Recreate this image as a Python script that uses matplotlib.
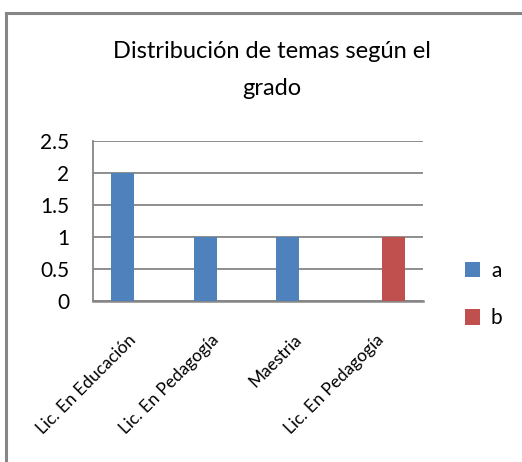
import matplotlib
matplotlib.use("Agg")
import matplotlib.pyplot as plt
import matplotlib.transforms as mtransforms
from matplotlib.lines import Line2D
import numpy as np

# ---------------------------------------------------------------------------
# Data
# ---------------------------------------------------------------------------
CATEGORIES = ["Lic. En Educación", "Lic. En Pedagogía", "Maestria", "Lic. En Pedagogía"]
SERIES_A = [2, 1, 1, 0]
SERIES_B = [0, 0, 0, 1]
SERIES_NAMES = ["a", "b"]
Y_TICKS = [0, 0.5, 1, 1.5, 2, 2.5]
Y_TICK_LABELS = ["0", "0.5", "1", "1.5", "2", "2.5"]
TITLE_LINES = ["Distribución de temas según el", "grado"]

# ---------------------------------------------------------------------------
# Style
# ---------------------------------------------------------------------------
plt.rcParams["font.family"] = ["Lato", "DejaVu Sans"]
BLUE = "#4F81BD"
RED = "#C0504D"
GRID = "#868686"

W, H = 522, 462
fig = plt.figure(figsize=(W / 100, H / 100), dpi=100)

# outer chart frame (only top and left edges are visible in the crop)
fig.add_artist(Line2D([6 / W, 6 / W], [0, 1 - 13 / H], color=GRID, lw=2.2))
fig.add_artist(Line2D([6 / W, 1], [1 - 13 / H, 1 - 13 / H], color=GRID, lw=2.2))

ax = fig.add_axes([93 / W, 1 - 301 / H, 330 / W, 160 / H])

x = np.arange(len(CATEGORIES))
width = 0.28
ax.bar(x - width / 2, SERIES_A, width, color=BLUE, label=SERIES_NAMES[0], zorder=3)
ax.bar(x + width / 2, SERIES_B, width, color=RED, label=SERIES_NAMES[1], zorder=3)

ax.set_xlim(-0.5, len(CATEGORIES) - 0.5)
ax.set_ylim(0, 2.5)
ax.set_yticks(Y_TICKS)
ax.set_yticklabels(Y_TICK_LABELS, fontsize=15)
ax.set_xticks(x)
ax.set_xticklabels(CATEGORIES, rotation=45, ha="right", rotation_mode="anchor",
                   fontsize=12.5)
ax.tick_params(axis="both", length=0)
ax.tick_params(axis="y", pad=17)
ax.tick_params(axis="x", pad=22)
shift = mtransforms.ScaledTranslation(-6 / 100, 0, fig.dpi_scale_trans)
for lbl in ax.get_xticklabels():
    lbl.set_transform(lbl.get_transform() + shift)

ax.grid(True, axis="y", color=GRID, lw=1.3, zorder=0)
for side in ("top", "right"):
    ax.spines[side].set_visible(False)
ax.spines["left"].set_color(GRID)
ax.spines["left"].set_linewidth(1.3)
ax.spines["bottom"].set_color(GRID)
ax.spines["bottom"].set_linewidth(1.8)

# two-line title, baselines
fig.text(272 / W, 1 - 58 / H, TITLE_LINES[0], ha="center", va="baseline", fontsize=17)
fig.text(272 / W, 1 - 95 / H, TITLE_LINES[1], ha="center", va="baseline", fontsize=17)

ax.legend(loc="center left", bbox_to_anchor=(1.07, 0.04), frameon=False,
          fontsize=15, handlelength=0.75, handleheight=0.75, labelspacing=1.3,
          handletextpad=0.5)

fig.savefig("out.png", dpi=100)
